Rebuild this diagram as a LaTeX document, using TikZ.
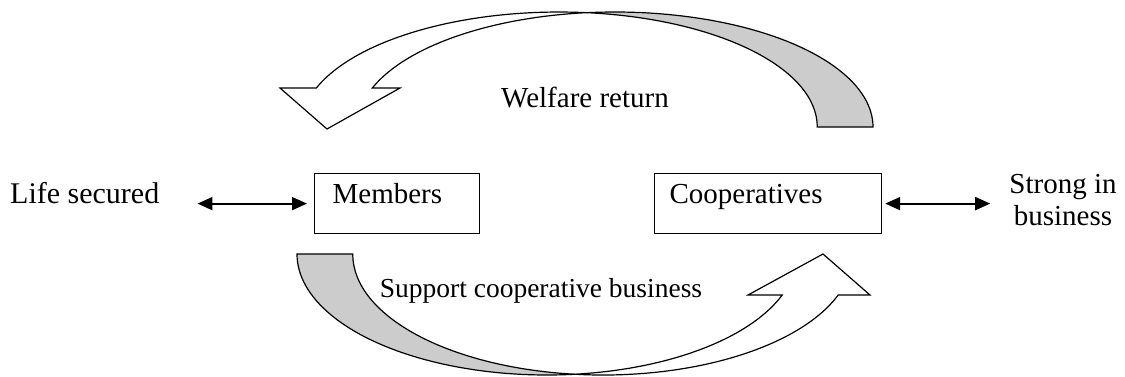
\documentclass[tikz,border=0pt]{standalone}
\usepackage{fontspec}
\setmainfont{Liberation Serif}
\usetikzlibrary{arrows.meta}
\definecolor{backshade}{gray}{0.8}

\begin{document}
\begin{tikzpicture}[x=1pt, y=-1pt,
    every node/.style={font=\fontsize{29}{32}\selectfont, inner sep=0pt},
    box/.style={draw, line width=1.2pt, anchor=north west, align=left,
      inner ysep=6pt, text height=24pt, text depth=24pt},
    band/.style={draw, line width=1.2pt, line join=miter},
    dbl/.style={<->, >={Triangle[length=15pt,width=13pt]}, line width=2pt}]
  \useasboundingbox (0,0) rectangle (1125,376);

  % the two parties
  \node[box, text width=129pt, inner xsep=18pt] (members) at (314,173) {Members};
  \node[box, text width=197pt, inner xsep=15pt] (coop) at (654,173) {Cooperatives};

  % outcomes on either side
  \node[anchor=base west, font=\fontsize{30}{33}\selectfont] (life) at (10,203) {Life secured};
  \node[align=center] (strong) at (1063,200) {Strong in\\business};
  \draw[dbl, shorten <=38pt, shorten >=7pt] (life.east |- members.west) -- (members.west);
  \draw[dbl, shorten <=3pt, shorten >=19pt] (coop.east) -- (strong.west |- coop.east);

  % upper loop: back of the band, then the front with its head
  \path[band, fill=backshade] (873,127)
    arc[start angle=0, end angle=-96.2, x radius=258, y radius=115]
    arc[start angle=-83.8, end angle=0, x radius=258, y radius=115] -- cycle;
  \path[band, fill=white] (586.9,12.7)
    arc[start angle=-83.8, end angle=-160.2, x radius=258, y radius=115]
    -- (280,88) -- (327,129) -- (400,88) -- (372.3,88)
    arc[start angle=-160.2, end angle=-96.2, x radius=258, y radius=115] -- cycle;
  \node[anchor=base] (welfare) at (585,107) {Welfare return};

  % lower loop
  \path[band, fill=backshade] (297,254)
    arc[start angle=180, end angle=83.6, x radius=250, y radius=121]
    arc[start angle=96.4, end angle=180, x radius=250, y radius=121] -- cycle;
  \path[band, fill=white] (574.9,374.2)
    arc[start angle=83.6, end angle=19.8, x radius=250, y radius=121]
    -- (748,295) -- (823,254) -- (870,295) -- (838.2,295)
    arc[start angle=19.8, end angle=96.4, x radius=250, y radius=121] -- cycle;
  \node[anchor=base, font=\fontsize{27.5}{30}\selectfont] (support) at (541,297) {Support cooperative business};
\end{tikzpicture}
\end{document}
